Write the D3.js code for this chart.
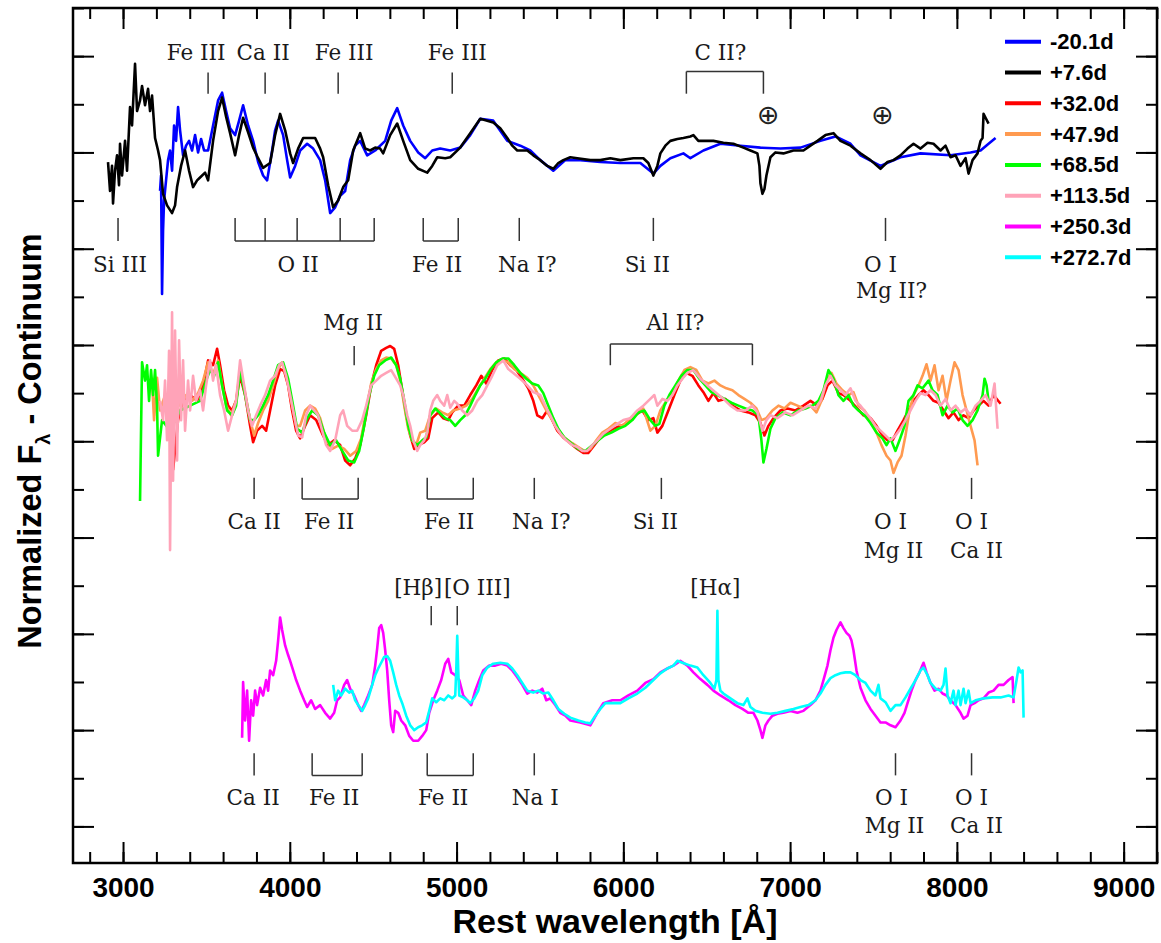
<!DOCTYPE html>
<html><head><meta charset="utf-8">
<script src="https://cdn.jsdelivr.net/npm/d3@7"></script>
<style>body{margin:0;background:#fff}svg{display:block}</style>
</head><body><svg id="chart" width="1161" height="943"></svg>
<script>
// ---------- data ----------
const xMajorTicks = [3000,4000,5000,6000,7000,8000,9000];
const xMinorTicks = d3.range(2800, 9201, 200);
const yMajorTicks = [0,1,2,3,4,5,6,7,8];
const yMinorTicks = d3.range(-0.5, 8.51, 0.5);

const legendLabels = ["-20.1d","+7.6d","+32.0d","+47.9d","+68.5d","+113.5d","+250.3d","+272.7d"];
const legendColors = ["#0000ff","#000000","#ff0000","#ff9a50","#00ff00","#ffa3b8","#ff00ff","#00ffff"];

// wavelength [A], normalized flux + offset
const spec_m20_1 = [[3222,6.60],[3228,6.76],[3234,5.53],[3240,6.19],[3246,6.50],[3258,6.71],[3270,6.92],[3282,7.02],[3294,6.81],[3306,7.28],[3318,7.12],[3330,7.47],[3342,7.23],[3360,6.97],[3378,7.07],[3396,7.12],[3414,7.02],[3432,7.18],[3450,7.00],[3468,7.14],[3486,7.02],[3510,7.02],[3540,7.28],[3570,7.54],[3594,7.62],[3618,7.43],[3642,7.25],[3672,7.18],[3696,7.33],[3720,7.49],[3750,7.28],[3780,7.12],[3810,6.90],[3840,6.76],[3864,6.71],[3894,7.02],[3912,7.23],[3930,7.33],[3960,7.18],[3984,6.92],[4002,6.74],[4032,6.86],[4062,7.02],[4104,7.09],[4140,7.04],[4182,6.92],[4212,6.71],[4242,6.37],[4272,6.43],[4302,6.55],[4332,6.60],[4362,6.92],[4392,7.07],[4422,7.12],[4464,6.97],[4512,7.02],[4572,7.12],[4608,7.33],[4644,7.46],[4680,7.28],[4722,7.12],[4770,7.00],[4812,6.94],[4854,7.02],[4902,7.04],[4962,7.02],[5022,7.05],[5082,7.18],[5142,7.35],[5220,7.33],[5304,7.12],[5382,7.07],[5442,7.02],[5502,6.92],[5580,6.81],[5652,6.92],[5742,6.92],[5862,6.90],[5982,6.89],[6102,6.89],[6180,6.78],[6222,6.86],[6282,6.94],[6360,6.99],[6402,6.94],[6480,7.02],[6582,7.09],[6702,7.07],[6822,7.05],[6942,7.04],[7062,7.05],[7182,7.12],[7272,7.165],[7362,7.09],[7422,6.97],[7542,6.86],[7662,6.95],[7782,6.99],[7962,6.97],[8082,7.00],[8142,7.02],[8190,7.09],[8232,7.15]];

const spec_p7_6 = [[2910,6.90],[2922,6.60],[2934,6.86],[2940,6.47],[2952,6.81],[2964,6.97],[2976,6.66],[2982,7.09],[2994,6.76],[3012,7.12],[3024,6.81],[3042,7.47],[3054,7.28],[3072,7.92],[3084,7.43],[3102,7.54],[3114,7.69],[3132,7.49],[3150,7.66],[3162,7.43],[3174,7.59],[3192,7.15],[3210,7.02],[3222,6.92],[3240,6.57],[3264,6.45],[3294,6.37],[3312,6.45],[3324,6.64],[3348,6.86],[3372,7.02],[3396,6.81],[3420,6.64],[3444,6.71],[3462,6.74],[3492,6.79],[3510,6.71],[3540,7.12],[3570,7.43],[3594,7.57],[3618,7.37],[3642,7.20],[3672,6.97],[3696,7.18],[3720,7.36],[3750,7.21],[3780,7.05],[3810,6.94],[3840,6.84],[3882,6.89],[3912,7.18],[3942,7.40],[3972,7.23],[4002,6.99],[4020,6.89],[4050,7.04],[4080,7.15],[4152,7.15],[4182,7.04],[4200,6.95],[4230,6.66],[4260,6.43],[4290,6.50],[4320,6.64],[4350,6.71],[4380,7.02],[4422,7.20],[4452,7.04],[4482,7.02],[4512,7.05],[4542,7.04],[4560,6.99],[4602,7.18],[4644,7.30],[4680,7.12],[4722,6.92],[4770,6.83],[4824,6.79],[4854,6.86],[4884,6.95],[4932,6.94],[4962,6.95],[5022,7.05],[5082,7.20],[5142,7.35],[5184,7.33],[5220,7.31],[5262,7.25],[5304,7.15],[5334,7.07],[5364,7.02],[5424,7.02],[5460,6.97],[5502,6.92],[5544,6.86],[5580,6.83],[5610,6.89],[5640,6.92],[5682,6.95],[5724,6.94],[5802,6.92],[5862,6.92],[5922,6.94],[5982,6.92],[6060,6.94],[6120,6.94],[6150,6.89],[6180,6.76],[6204,6.86],[6222,6.99],[6252,7.07],[6282,7.12],[6324,7.14],[6360,7.15],[6402,7.165],[6420,7.18],[6450,7.12],[6480,7.12],[6540,7.12],[6600,7.10],[6660,7.09],[6720,7.05],[6762,7.02],[6804,6.99],[6816,6.86],[6822,6.68],[6834,6.57],[6846,6.62],[6858,6.76],[6882,6.95],[6912,7.00],[6960,6.99],[7020,7.02],[7080,7.02],[7122,7.07],[7164,7.12],[7212,7.18],[7260,7.20],[7302,7.12],[7362,7.07],[7422,6.99],[7482,6.92],[7542,6.83],[7584,6.90],[7620,6.92],[7662,6.97],[7704,7.04],[7740,7.09],[7782,7.04],[7824,7.10],[7860,7.09],[7902,7.02],[7932,7.07],[7962,6.95],[7992,6.97],[8022,6.86],[8052,6.94],[8070,6.78],[8094,6.92],[8124,6.99],[8142,7.12],[8154,7.15],[8160,7.40],[8172,7.36],[8190,7.30]];

const spec_p32_0 = [[3300,3.70],[3330,4.22],[3360,4.42],[3402,4.48],[3444,4.42],[3480,4.58],[3510,4.84],[3540,4.79],[3564,4.96],[3582,4.79],[3606,4.53],[3630,4.37],[3654,4.32],[3678,4.42],[3702,4.68],[3732,4.48],[3762,4.16],[3780,3.99],[3804,4.11],[3834,4.16],[3858,4.11],[3882,4.32],[3912,4.58],[3942,4.75],[3966,4.73],[3990,4.58],[4014,4.32],[4038,4.11],[4062,4.03],[4092,4.16],[4122,4.27],[4158,4.22],[4194,4.08],[4230,3.96],[4266,4.01],[4302,3.96],[4332,3.80],[4362,3.75],[4392,3.82],[4422,3.96],[4458,4.27],[4488,4.58],[4518,4.79],[4548,4.94],[4578,4.97],[4602,4.99],[4626,4.96],[4650,4.79],[4674,4.53],[4698,4.27],[4722,4.06],[4746,3.92],[4770,3.96],[4806,3.99],[4830,4.03],[4854,4.24],[4890,4.30],[4920,4.24],[4950,4.22],[4974,4.30],[5010,4.37],[5046,4.37],[5082,4.48],[5118,4.58],[5148,4.68],[5178,4.60],[5214,4.74],[5250,4.84],[5286,4.86],[5322,4.79],[5358,4.74],[5394,4.65],[5430,4.55],[5460,4.42],[5484,4.27],[5514,4.24],[5544,4.32],[5574,4.22],[5604,4.11],[5640,4.04],[5682,3.98],[5724,3.92],[5760,3.88],[5790,3.88],[5826,3.96],[5862,4.04],[5898,4.09],[5940,4.13],[5982,4.16],[6030,4.19],[6072,4.27],[6114,4.32],[6150,4.22],[6180,4.24],[6204,4.09],[6234,4.16],[6270,4.32],[6306,4.48],[6342,4.63],[6378,4.71],[6414,4.68],[6450,4.58],[6480,4.51],[6510,4.42],[6540,4.50],[6570,4.42],[6612,4.44],[6654,4.37],[6702,4.32],[6750,4.30],[6792,4.27],[6822,4.19],[6846,4.06],[6870,4.16],[6900,4.24],[6942,4.32],[6984,4.34],[7032,4.32],[7080,4.37],[7122,4.42],[7164,4.37],[7194,4.44],[7224,4.58],[7254,4.63],[7290,4.50],[7320,4.48],[7362,4.42],[7404,4.34],[7440,4.27],[7482,4.24],[7518,4.16],[7554,4.06],[7584,4.01],[7614,4.01],[7644,4.11],[7680,4.22],[7710,4.32],[7740,4.42],[7770,4.48],[7800,4.53],[7830,4.48],[7860,4.42],[7890,4.40],[7920,4.32],[7950,4.24],[7980,4.30],[8010,4.22],[8040,4.27],[8070,4.24],[8100,4.32],[8130,4.37],[8160,4.42],[8190,4.37],[8220,4.48],[8262,4.39]];

const spec_p47_9 = [[3174,4.63],[3186,4.22],[3204,4.66],[3222,4.32],[3252,4.48],[3282,4.22],[3312,4.42],[3342,4.37],[3378,4.48],[3414,4.42],[3450,4.50],[3480,4.63],[3510,4.82],[3540,4.70],[3570,4.84],[3594,4.58],[3618,4.37],[3648,4.27],[3678,4.42],[3702,4.75],[3732,4.50],[3762,4.22],[3786,4.06],[3810,4.19],[3840,4.32],[3870,4.42],[3900,4.58],[3930,4.75],[3954,4.82],[3984,4.65],[4014,4.37],[4038,4.16],[4062,4.16],[4092,4.32],[4122,4.37],[4152,4.34],[4182,4.24],[4218,4.01],[4254,3.92],[4290,3.955],[4326,3.92],[4362,3.85],[4398,3.90],[4428,4.03],[4458,4.32],[4488,4.60],[4518,4.75],[4548,4.84],[4578,4.87],[4608,4.86],[4638,4.79],[4662,4.63],[4686,4.37],[4710,4.13],[4734,4.01],[4758,3.96],[4782,4.09],[4812,4.11],[4842,4.27],[4878,4.34],[4914,4.30],[4950,4.27],[4980,4.32],[5022,4.34],[5058,4.37],[5094,4.44],[5130,4.55],[5166,4.65],[5202,4.75],[5238,4.82],[5274,4.84],[5310,4.82],[5346,4.75],[5382,4.71],[5424,4.66],[5460,4.58],[5502,4.44],[5538,4.32],[5574,4.22],[5610,4.11],[5652,4.03],[5694,3.98],[5730,3.94],[5766,3.90],[5802,3.92],[5838,4.01],[5874,4.09],[5910,4.13],[5952,4.19],[5994,4.16],[6042,4.24],[6084,4.30],[6120,4.34],[6162,4.11],[6192,4.16],[6222,4.32],[6258,4.42],[6294,4.50],[6330,4.63],[6366,4.74],[6402,4.77],[6438,4.74],[6474,4.63],[6510,4.60],[6546,4.63],[6582,4.58],[6618,4.55],[6654,4.53],[6690,4.48],[6726,4.44],[6762,4.40],[6798,4.34],[6828,4.22],[6858,4.24],[6894,4.32],[6930,4.37],[6966,4.34],[7002,4.40],[7044,4.37],[7080,4.34],[7122,4.37],[7158,4.30],[7188,4.42],[7218,4.63],[7248,4.71],[7278,4.60],[7314,4.53],[7350,4.48],[7380,4.51],[7410,4.37],[7446,4.32],[7482,4.22],[7518,4.09],[7548,3.96],[7578,3.85],[7602,3.80],[7620,3.67],[7644,3.78],[7668,3.85],[7692,4.06],[7716,4.32],[7740,4.48],[7770,4.58],[7794,4.68],[7818,4.80],[7842,4.63],[7866,4.79],[7890,4.53],[7914,4.68],[7938,4.42],[7962,4.63],[7986,4.82],[8010,4.74],[8034,4.48],[8058,4.32],[8082,4.16],[8106,4.01],[8124,3.75]];

const spec_p68_5 = [[3102,3.38],[3108,4.11],[3114,4.82],[3132,4.63],[3144,4.79],[3156,4.42],[3168,4.74],[3180,4.48],[3192,4.74],[3204,4.37],[3210,3.85],[3234,4.22],[3282,4.11],[3342,4.32],[3402,4.37],[3462,4.42],[3498,4.63],[3522,4.74],[3546,4.68],[3570,4.82],[3594,4.58],[3624,4.32],[3654,4.27],[3678,4.37],[3702,4.74],[3732,4.48],[3762,4.22],[3786,4.22],[3810,4.27],[3840,4.37],[3870,4.48],[3900,4.63],[3930,4.79],[3960,4.82],[3990,4.65],[4020,4.37],[4044,4.13],[4074,4.09],[4104,4.24],[4134,4.32],[4170,4.27],[4206,4.09],[4242,3.96],[4278,4.01],[4314,3.90],[4350,3.80],[4386,3.78],[4416,3.90],[4446,4.16],[4476,4.48],[4506,4.68],[4536,4.79],[4572,4.84],[4608,4.87],[4638,4.79],[4662,4.65],[4686,4.42],[4710,4.16],[4734,4.01],[4764,3.96],[4794,4.01],[4818,4.04],[4842,4.27],[4872,4.34],[4902,4.29],[4932,4.24],[4962,4.22],[4992,4.16],[5022,4.22],[5052,4.27],[5082,4.37],[5112,4.48],[5142,4.58],[5172,4.65],[5202,4.74],[5238,4.82],[5274,4.86],[5310,4.86],[5346,4.79],[5382,4.71],[5418,4.65],[5454,4.60],[5490,4.58],[5520,4.50],[5550,4.37],[5580,4.24],[5610,4.13],[5646,4.04],[5688,3.98],[5730,3.92],[5772,3.90],[5814,3.96],[5850,4.01],[5886,4.06],[5928,4.09],[5970,4.13],[6012,4.16],[6054,4.22],[6090,4.30],[6126,4.32],[6162,4.22],[6192,4.16],[6216,4.18],[6246,4.37],[6276,4.48],[6312,4.58],[6348,4.68],[6384,4.74],[6420,4.74],[6456,4.65],[6492,4.58],[6528,4.51],[6564,4.48],[6606,4.44],[6648,4.40],[6690,4.37],[6732,4.34],[6774,4.32],[6810,4.27],[6828,4.01],[6840,3.78],[6858,3.92],[6882,4.13],[6912,4.24],[6954,4.30],[7002,4.27],[7050,4.32],[7092,4.34],[7134,4.37],[7170,4.42],[7200,4.53],[7230,4.74],[7260,4.65],[7290,4.48],[7320,4.42],[7350,4.48],[7380,4.37],[7410,4.32],[7446,4.27],[7482,4.19],[7518,4.09],[7554,4.03],[7578,3.96],[7602,4.03],[7632,3.90],[7656,4.01],[7686,4.16],[7710,4.42],[7740,4.48],[7764,4.58],[7794,4.55],[7830,4.63],[7854,4.53],[7884,4.48],[7914,4.27],[7944,4.37],[7974,4.30],[8004,4.34],[8034,4.22],[8064,4.16],[8094,4.22],[8124,4.32],[8154,4.48],[8166,4.65],[8178,4.58],[8190,4.42]];

const spec_p113_5 = [[3222,4.42],[3240,4.22],[3252,4.63],[3264,4.01],[3276,4.94],[3282,2.87],[3294,5.34],[3300,3.59],[3312,5.15],[3324,3.80],[3336,5.05],[3348,4.22],[3360,4.84],[3372,4.11],[3390,4.63],[3402,4.32],[3420,4.68],[3438,4.42],[3462,4.53],[3480,4.32],[3498,4.58],[3522,4.84],[3540,4.63],[3558,4.79],[3582,4.48],[3606,4.32],[3630,4.11],[3654,4.27],[3678,4.42],[3702,4.84],[3726,4.58],[3750,4.32],[3774,4.16],[3798,4.27],[3822,4.37],[3852,4.48],[3882,4.63],[3912,4.68],[3936,4.79],[3954,4.82],[3978,4.68],[4002,4.48],[4026,4.27],[4050,4.06],[4074,4.04],[4098,4.27],[4122,4.37],[4146,4.32],[4170,4.27],[4194,4.11],[4218,3.96],[4242,3.90],[4272,4.01],[4302,4.27],[4320,4.32],[4344,4.16],[4374,4.11],[4404,4.11],[4434,4.22],[4458,4.37],[4488,4.58],[4518,4.63],[4548,4.68],[4578,4.71],[4608,4.74],[4638,4.65],[4662,4.58],[4680,4.48],[4704,4.27],[4722,4.16],[4740,4.01],[4764,3.90],[4782,3.96],[4806,4.01],[4824,4.09],[4842,4.32],[4860,4.42],[4884,4.48],[4902,4.42],[4926,4.37],[4944,4.48],[4962,4.35],[4986,4.42],[5004,4.39],[5034,4.32],[5064,4.27],[5094,4.32],[5124,4.42],[5154,4.48],[5184,4.58],[5214,4.68],[5244,4.79],[5280,4.84],[5310,4.75],[5340,4.71],[5382,4.65],[5424,4.58],[5460,4.51],[5502,4.48],[5532,4.37],[5562,4.27],[5592,4.16],[5622,4.08],[5658,4.01],[5694,3.96],[5724,3.94],[5754,3.90],[5784,3.90],[5814,3.96],[5844,4.01],[5880,4.08],[5922,4.13],[5964,4.18],[6000,4.22],[6042,4.24],[6084,4.32],[6120,4.37],[6162,4.44],[6186,4.48],[6204,4.37],[6234,4.44],[6264,4.42],[6294,4.48],[6324,4.58],[6354,4.65],[6384,4.71],[6420,4.74],[6462,4.65],[6504,4.58],[6552,4.51],[6600,4.44],[6642,4.37],[6684,4.32],[6732,4.32],[6774,4.37],[6804,4.30],[6834,4.11],[6858,4.22],[6882,4.27],[6924,4.24],[6972,4.30],[7014,4.27],[7062,4.32],[7110,4.37],[7152,4.34],[7182,4.42],[7212,4.58],[7242,4.68],[7272,4.58],[7302,4.53],[7332,4.48],[7362,4.55],[7392,4.42],[7422,4.37],[7452,4.30],[7482,4.24],[7512,4.16],[7542,4.11],[7572,4.06],[7602,4.01],[7632,4.06],[7662,4.13],[7692,4.22],[7722,4.32],[7752,4.42],[7782,4.50],[7812,4.48],[7842,4.53],[7872,4.48],[7902,4.37],[7932,4.44],[7962,4.32],[7992,4.37],[8022,4.30],[8052,4.34],[8082,4.27],[8112,4.37],[8142,4.42],[8172,4.48],[8202,4.37],[8226,4.60],[8244,4.13]];

const spec_p250_3 = [[3714,0.92],[3720,1.50],[3732,1.10],[3744,1.41],[3756,0.89],[3768,1.31],[3780,1.15],[3792,1.41],[3804,1.26],[3822,1.44],[3840,1.36],[3858,1.52],[3870,1.41],[3882,1.62],[3900,1.57],[3918,1.72],[3930,1.93],[3942,2.17],[3954,2.04],[3972,1.88],[3990,1.78],[4002,1.72],[4020,1.62],[4038,1.52],[4062,1.41],[4086,1.31],[4104,1.24],[4128,1.31],[4152,1.22],[4182,1.26],[4212,1.18],[4242,1.12],[4266,1.18],[4284,1.31],[4302,1.34],[4326,1.47],[4344,1.52],[4362,1.43],[4386,1.36],[4410,1.26],[4428,1.20],[4446,1.26],[4470,1.36],[4494,1.47],[4512,1.67],[4524,1.85],[4536,2.06],[4548,2.09],[4560,2.01],[4572,1.83],[4584,1.62],[4596,1.31],[4608,1.05],[4620,0.98],[4632,1.20],[4650,1.18],[4668,1.10],[4692,1.05],[4716,0.94],[4740,0.89],[4770,0.89],[4794,0.94],[4818,1.00],[4836,1.18],[4860,1.31],[4884,1.41],[4908,1.52],[4932,1.69],[4950,1.74],[4968,1.60],[4992,1.57],[5016,1.52],[5040,1.36],[5064,1.31],[5088,1.26],[5112,1.41],[5136,1.52],[5160,1.62],[5196,1.67],[5232,1.67],[5268,1.69],[5304,1.67],[5334,1.62],[5364,1.55],[5394,1.47],[5424,1.38],[5454,1.41],[5484,1.39],[5514,1.43],[5538,1.31],[5562,1.33],[5592,1.26],[5622,1.18],[5652,1.15],[5682,1.10],[5742,1.08],[5802,1.05],[5844,1.18],[5880,1.28],[5934,1.31],[5982,1.31],[6030,1.36],[6084,1.41],[6132,1.49],[6180,1.53],[6222,1.60],[6264,1.64],[6300,1.67],[6342,1.72],[6384,1.67],[6420,1.60],[6462,1.53],[6504,1.47],[6540,1.41],[6582,1.36],[6630,1.31],[6672,1.26],[6714,1.22],[6750,1.18],[6780,1.18],[6804,1.10],[6822,1.00],[6834,0.92],[6852,1.05],[6870,1.10],[6894,1.15],[6924,1.17],[6960,1.18],[7002,1.20],[7044,1.18],[7080,1.20],[7122,1.26],[7152,1.31],[7182,1.41],[7200,1.52],[7224,1.67],[7242,1.83],[7260,1.96],[7278,2.04],[7302,2.12],[7320,2.06],[7338,2.01],[7356,1.98],[7368,1.93],[7380,1.83],[7398,1.62],[7422,1.44],[7452,1.31],[7482,1.22],[7512,1.15],[7542,1.08],[7572,1.08],[7602,1.05],[7632,1.03],[7662,1.10],[7686,1.18],[7704,1.28],[7728,1.41],[7752,1.52],[7776,1.60],[7800,1.70],[7818,1.60],[7842,1.49],[7866,1.41],[7890,1.43],[7914,1.38],[7938,1.36],[7962,1.31],[7992,1.26],[8022,1.18],[8040,1.12],[8064,1.15],[8082,1.26],[8106,1.28],[8130,1.31],[8160,1.33],[8190,1.39],[8220,1.41],[8250,1.47],[8280,1.47],[8310,1.52],[8334,1.55],[8340,1.28]];

const spec_p272_7 = [[4260,1.47],[4272,1.31],[4290,1.41],[4308,1.36],[4332,1.43],[4356,1.39],[4374,1.41],[4392,1.31],[4410,1.26],[4434,1.20],[4452,1.26],[4470,1.33],[4494,1.47],[4512,1.57],[4530,1.64],[4548,1.70],[4566,1.76],[4584,1.77],[4602,1.72],[4620,1.60],[4638,1.47],[4656,1.36],[4674,1.28],[4698,1.15],[4722,1.05],[4746,1.00],[4770,1.03],[4794,1.05],[4818,1.08],[4836,1.20],[4854,1.33],[4878,1.29],[4902,1.33],[4926,1.31],[4950,1.36],[4974,1.33],[4992,1.36],[4998,1.62],[5004,1.98],[5010,1.62],[5016,1.36],[5040,1.34],[5064,1.31],[5082,1.28],[5106,1.33],[5130,1.41],[5154,1.57],[5184,1.65],[5220,1.69],[5262,1.70],[5304,1.69],[5334,1.64],[5364,1.57],[5394,1.49],[5424,1.41],[5460,1.39],[5490,1.41],[5520,1.38],[5550,1.39],[5580,1.31],[5610,1.22],[5646,1.17],[5682,1.13],[5730,1.10],[5772,1.08],[5802,1.07],[5832,1.15],[5862,1.22],[5892,1.28],[5934,1.28],[5982,1.28],[6030,1.33],[6084,1.38],[6132,1.44],[6180,1.52],[6222,1.59],[6264,1.64],[6300,1.67],[6324,1.72],[6354,1.70],[6402,1.67],[6444,1.65],[6480,1.57],[6522,1.49],[6546,1.43],[6558,1.52],[6564,2.24],[6570,1.52],[6582,1.41],[6600,1.38],[6642,1.33],[6684,1.28],[6720,1.26],[6744,1.33],[6762,1.24],[6792,1.20],[6834,1.18],[6882,1.17],[6924,1.18],[6972,1.20],[7020,1.22],[7062,1.24],[7110,1.26],[7152,1.31],[7182,1.38],[7212,1.47],[7242,1.54],[7272,1.57],[7302,1.59],[7332,1.60],[7362,1.60],[7392,1.57],[7422,1.52],[7452,1.49],[7482,1.41],[7512,1.36],[7530,1.47],[7542,1.33],[7572,1.29],[7602,1.20],[7632,1.26],[7662,1.26],[7692,1.34],[7722,1.43],[7752,1.52],[7782,1.62],[7800,1.65],[7824,1.57],[7842,1.49],[7872,1.43],[7902,1.41],[7920,1.47],[7932,1.64],[7944,1.36],[7962,1.28],[7980,1.41],[7992,1.26],[8010,1.41],[8022,1.26],[8040,1.43],[8052,1.28],[8070,1.41],[8082,1.28],[8112,1.31],[8160,1.33],[8214,1.34],[8262,1.34],[8310,1.36],[8340,1.34],[8358,1.52],[8370,1.65],[8382,1.60],[8394,1.62],[8400,1.13]];

// line identifications: text rows, tick wavelengths, text wavelengths, tick span (flux units), text baselines (flux units)
const lineIds = [
  {t:["Fe III"], w:[3510], tw:[3438], span:[7.61,7.83], ty:[7.96]},
  {t:["Ca II"], w:[3852], tw:[3840], span:[7.61,7.83], ty:[7.96]},
  {t:["Fe III"], w:[4290], tw:[4326], span:[7.61,7.83], ty:[7.96]},
  {t:["Fe III"], w:[4974], tw:[5004], span:[7.61,7.83], ty:[7.96]},
  {t:["C II?"], w:[6378,6840], tw:[6582], span:[7.61,7.84], ty:[7.96], bar:"top"},
  {t:["Si III"], w:[2970], tw:[2982], span:[6.08,6.32], ty:[5.76]},
  {t:["O II"], w:[3672,3852,4044,4302,4506], tw:[4050], span:[6.08,6.32], ty:[5.76], bar:"bottom"},
  {t:["Fe II"], w:[4800,5010], tw:[4884], span:[6.08,6.32], ty:[5.76], bar:"bottom"},
  {t:["Na I?"], w:[5376], tw:[5424], span:[6.08,6.32], ty:[5.76]},
  {t:["Si II"], w:[6180], tw:[6144], span:[6.08,6.32], ty:[5.76]},
  {t:["O I","Mg II?"], w:[7572], tw:[7542,7608], span:[6.08,6.32], ty:[5.76,5.49]},
  {t:["Mg II"], w:[4386], tw:[4380], span:[4.79,4.99], ty:[5.16]},
  {t:["Al II?"], w:[5922,6774], tw:[6312], span:[4.79,5.01], ty:[5.16], bar:"top"},
  {t:["Ca II"], w:[3786], tw:[3786], span:[3.40,3.62], ty:[3.09]},
  {t:["Fe II"], w:[4074,4410], tw:[4236], span:[3.40,3.62], ty:[3.09], bar:"bottom"},
  {t:["Fe II"], w:[4824,5100], tw:[4956], span:[3.40,3.62], ty:[3.09], bar:"bottom"},
  {t:["Na I?"], w:[5466], tw:[5508], span:[3.40,3.62], ty:[3.09]},
  {t:["Si II"], w:[6228], tw:[6192], span:[3.40,3.62], ty:[3.09]},
  {t:["O I","Mg II"], w:[7632], tw:[7602,7620], span:[3.40,3.62], ty:[3.09,2.79]},
  {t:["O I","Ca II"], w:[8088], tw:[8088,8118], span:[3.40,3.62], ty:[3.09,2.79]},
  {t:["[Hβ]"], w:[4848], tw:[4770], span:[2.09,2.29], ty:[2.40]},
  {t:["[O III]"], w:[5004], tw:[5124], span:[2.09,2.29], ty:[2.40]},
  {t:["[Hα]"], w:[], tw:[6552], span:[2.09,2.29], ty:[2.40]},
  {t:["Ca II"], w:[3786], tw:[3780], span:[0.53,0.76], ty:[0.22]},
  {t:["Fe II"], w:[4134,4434], tw:[4266], span:[0.53,0.76], ty:[0.22], bar:"bottom"},
  {t:["Fe II"], w:[4824,5100], tw:[4920], span:[0.53,0.76], ty:[0.22], bar:"bottom"},
  {t:["Na I"], w:[5466], tw:[5472], span:[0.53,0.76], ty:[0.22]},
  {t:["O I","Mg II"], w:[7632], tw:[7608,7626], span:[0.53,0.76], ty:[0.22,-0.07]},
  {t:["O I","Ca II"], w:[8088], tw:[8088,8118], span:[0.53,0.76], ty:[0.22,-0.07]}
];
const telluricMarks = [[6870,7.39],[7554,7.39]];

// ---------- chart ----------
const svg = d3.select("#chart");
const L = 73, R = 1157, T = 8, B = 863;
const x = d3.scaleLinear().domain([2700, 9200]).range([L, R]);
const y = d3.scaleLinear().domain([-0.38, 8.5]).range([B, T]);

const series = [spec_m20_1, spec_p7_6, spec_p32_0, spec_p47_9, spec_p68_5, spec_p113_5, spec_p250_3, spec_p272_7];
const line = d3.line().x(d => x(d[0])).y(d => y(d[1]));

const plot = svg.append("g");
series.forEach((s,i) => {
  plot.append("path").datum(s)
    .attr("d", line).attr("fill","none")
    .attr("stroke", legendColors[i])
    .attr("stroke-width", 2.6)
    .attr("stroke-linejoin","round");
});

// line identifications
const ann = svg.append("g").attr("stroke","#333").attr("stroke-width",1.5);
const annText = svg.append("g").attr("font-family","'DejaVu Serif', serif").attr("font-size",21.5).attr("fill","#1a1a1a").attr("text-anchor","middle");
lineIds.forEach(d => {
  d.w.forEach(w => {
    ann.append("line").attr("x1",x(w)).attr("x2",x(w)).attr("y1",y(d.span[0])).attr("y2",y(d.span[1]));
  });
  if (d.bar) {
    const yy = d.bar === "top" ? y(d.span[1]) : y(d.span[0]);
    ann.append("line").attr("x1",x(d.w[0])).attr("x2",x(d.w[d.w.length-1])).attr("y1",yy).attr("y2",yy);
  }
  d.t.forEach((t,k) => {
    annText.append("text").attr("x",x(d.tw[k])).attr("y",y(d.ty[k])).text(t);
  });
});
telluricMarks.forEach(m => {
  svg.append("text").attr("x",x(m[0])).attr("y",y(m[1])).attr("text-anchor","middle")
    .attr("dominant-baseline","central").attr("font-family","'DejaVu Sans', sans-serif")
    .attr("font-size",27).attr("fill","#222").text("⊕");
});

// axes
const axG = svg.append("g");
function addAxis(gen, tr, labels){
  const g = axG.append("g").attr("transform", tr).call(gen);
  g.select(".domain").remove();
  g.selectAll(".tick line").attr("stroke","#000").attr("stroke-width",2);
  if (!labels) g.selectAll(".tick text").remove();
  return g;
}
const fmt = d3.format("d");
const xb = addAxis(d3.axisBottom(x).tickValues(xMajorTicks).tickSize(-21).tickFormat(fmt).tickPadding(34), `translate(0,${B})`, true);
xb.selectAll(".tick text").attr("font-family","'Liberation Sans', Arial, sans-serif").attr("font-weight","bold").attr("font-size",28).attr("fill","#000").attr("dy","0");
addAxis(d3.axisBottom(x).tickValues(xMinorTicks).tickSize(-11), `translate(0,${B})`, false);
addAxis(d3.axisTop(x).tickValues(xMajorTicks).tickSize(-21), `translate(0,${T})`, false);
addAxis(d3.axisTop(x).tickValues(xMinorTicks).tickSize(-11), `translate(0,${T})`, false);
addAxis(d3.axisLeft(y).tickValues(yMajorTicks).tickSize(-21), `translate(${L},0)`, false);
addAxis(d3.axisLeft(y).tickValues(yMinorTicks.filter(v => v > -0.38)).tickSize(-11), `translate(${L},0)`, false);
addAxis(d3.axisRight(y).tickValues(yMajorTicks).tickSize(-21), `translate(${R},0)`, false);
addAxis(d3.axisRight(y).tickValues(yMinorTicks.filter(v => v > -0.38)).tickSize(-11), `translate(${R},0)`, false);

svg.append("rect").attr("x",L).attr("y",T).attr("width",R-L).attr("height",B-T)
  .attr("fill","none").attr("stroke","#000").attr("stroke-width",2.5);

// axis titles
svg.append("text").attr("x",(L+R)/2).attr("y",933).attr("text-anchor","middle")
  .attr("font-family","'Liberation Sans', Arial, sans-serif").attr("font-weight","bold").attr("font-size",34)
  .text("Rest wavelength [Å]");
const yl = svg.append("text").attr("transform","translate(41,441) rotate(-90)").attr("text-anchor","middle")
  .attr("font-family","'Liberation Sans', Arial, sans-serif").attr("font-weight","bold").attr("font-size",32.5);
yl.append("tspan").text("Normalized F");
yl.append("tspan").attr("font-size",20).attr("dy",9).text("λ");
yl.append("tspan").attr("dy",-9).text(" - Continuum");

// legend
const lg = svg.append("g");
legendLabels.forEach((lab,i) => {
  const yy = 41.7 + i*30.8;
  lg.append("line").attr("x1",1005).attr("x2",1041).attr("y1",yy).attr("y2",yy)
    .attr("stroke",legendColors[i]).attr("stroke-width",4);
  lg.append("text").attr("x",1050).attr("y",yy).attr("dominant-baseline","central")
    .attr("font-family","'Liberation Sans', Arial, sans-serif").attr("font-weight","bold").attr("font-size",22)
    .text(lab);
});
</script></body></html>
